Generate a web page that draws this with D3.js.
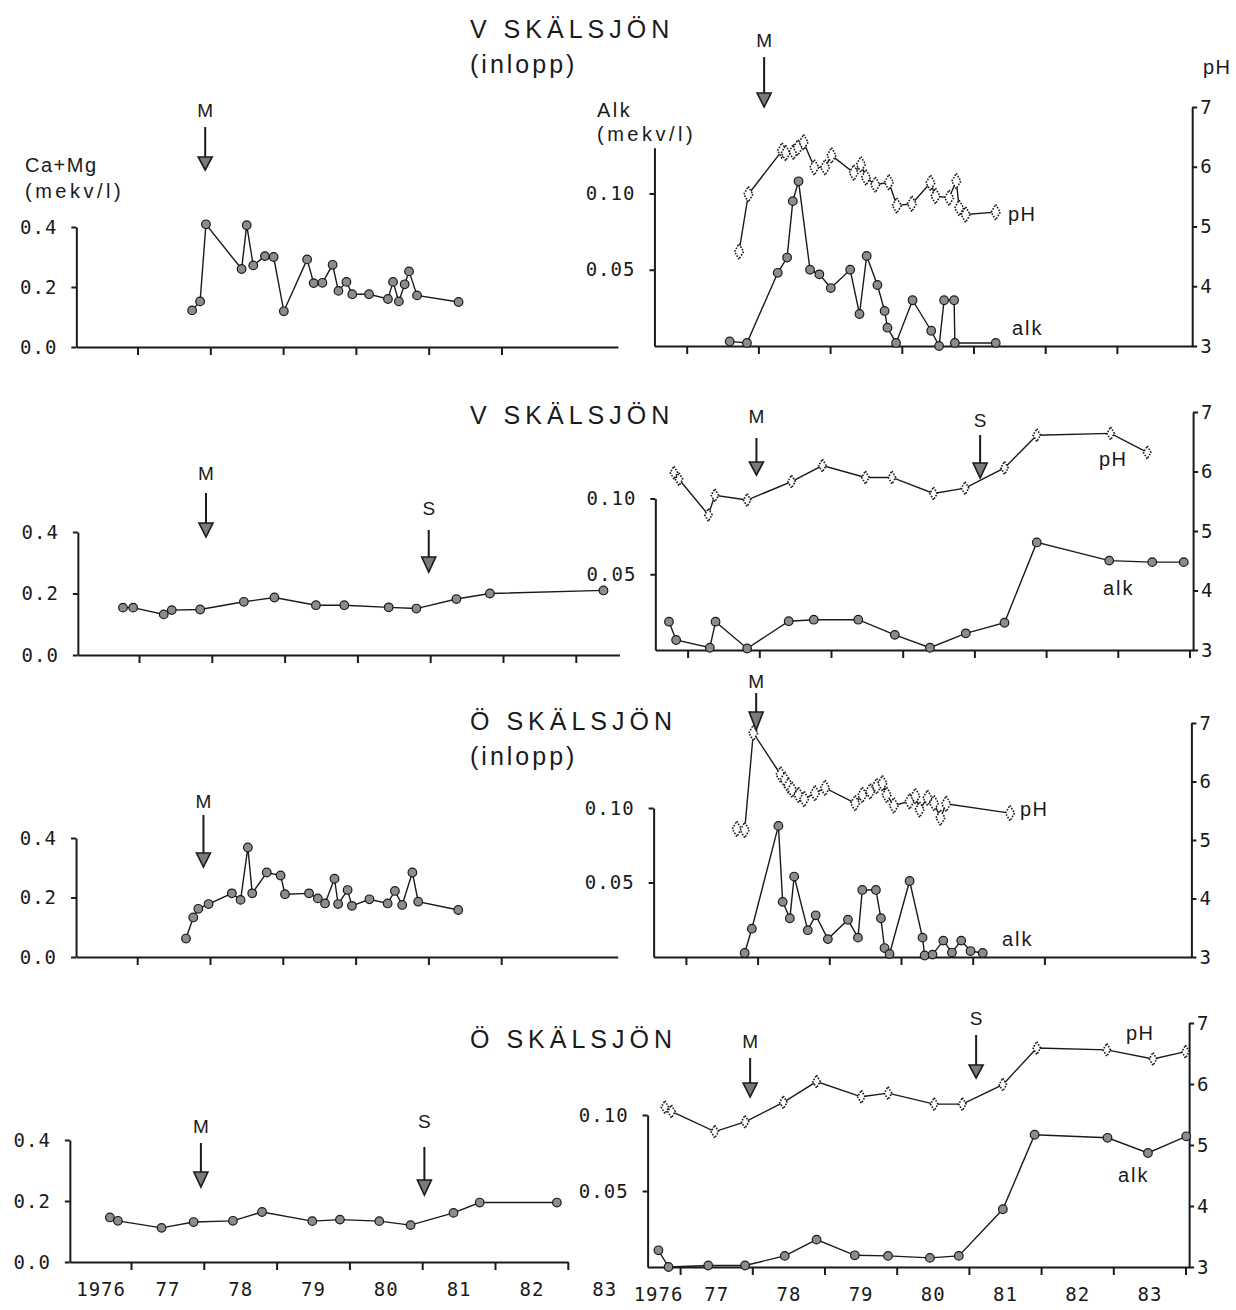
<!DOCTYPE html>
<html><head><meta charset="utf-8">
<script src="https://cdn.jsdelivr.net/npm/d3@7"></script>
<style>
body{margin:0;background:#fff;}
svg{display:block;background:#fff;}
.num{font-family:'DejaVu Sans Mono','Liberation Mono',monospace;font-size:19px;fill:#1a1a1a;letter-spacing:1px;}
.lab{font-family:'Liberation Sans','DejaVu Sans',sans-serif;fill:#1a1a1a;}
.ax path,.ax line{stroke:#1a1a1a;stroke-width:2;}
.ax text{font-family:'DejaVu Sans Mono','Liberation Mono',monospace;font-size:19px;fill:#1a1a1a;letter-spacing:1px;}
</style></head><body>
<svg id="c" width="1236" height="1310"></svg>
<script>
// ---------------- DATA ----------------
const yearLabels = ['1976','77','78','79','80','81','82','83'];
const yearLabelPos = [1976.5,1977.5,1978.5,1979.5,1980.5,1981.5,1982.5,1983.5];
const caTicks = [0.0,0.2,0.4];
const alkTicks = [0.05,0.10];
const phTicks = [3,4,5,6,7];
const titles = [['V SKÄLSJÖN','(inlopp)'],['V SKÄLSJÖN'],['Ö SKÄLSJÖN','(inlopp)'],['Ö SKÄLSJÖN']];

// Row 1: V Skälsjön (inlopp)
const vInCaT = [1977.75,1977.86,1977.94,1978.43,1978.50,1978.59,1978.75,1978.87,1979.01,1979.33,1979.42,1979.54,1979.68,1979.76,1979.87,1979.95,1980.18,1980.44,1980.51,1980.59,1980.67,1980.73,1980.84,1981.41];
const vInCa  = [0.122,0.152,0.409,0.26,0.406,0.272,0.303,0.30,0.119,0.292,0.213,0.214,0.274,0.187,0.217,0.176,0.176,0.16,0.217,0.152,0.209,0.252,0.172,0.15];
const vInAlkT = [1977.60,1977.84,1978.27,1978.40,1978.48,1978.56,1978.72,1978.85,1979.01,1979.28,1979.41,1979.51,1979.66,1979.76,1979.80,1979.92,1980.15,1980.41,1980.52,1980.59,1980.73,1980.74,1981.31];
const vInAlk  = [0.003,0.002,0.048,0.058,0.095,0.108,0.050,0.047,0.038,0.050,0.021,0.059,0.040,0.023,0.012,0.002,0.030,0.010,0.0,0.030,0.030,0.002,0.002];
const vInPhT = [1977.73,1977.86,1978.33,1978.38,1978.49,1978.55,1978.63,1978.78,1978.93,1979.02,1979.33,1979.43,1979.50,1979.63,1979.82,1979.93,1980.14,1980.40,1980.47,1980.66,1980.76,1980.80,1980.89,1981.31];
const vInPh  = [4.58,5.54,6.27,6.23,6.25,6.32,6.41,5.99,5.99,6.19,5.90,6.04,5.82,5.70,5.74,5.35,5.38,5.73,5.51,5.48,5.76,5.31,5.20,5.24];

// Row 2: V Skälsjön
const vCaT = [1976.78,1976.92,1977.34,1977.45,1977.84,1978.44,1978.86,1979.43,1979.82,1980.43,1980.81,1981.36,1981.82,1983.38];
const vCa  = [0.154,0.154,0.132,0.146,0.148,0.173,0.187,0.162,0.162,0.155,0.151,0.182,0.20,0.21];
const vAlkT = [1976.74,1976.84,1977.31,1977.39,1977.83,1978.41,1978.76,1979.38,1979.89,1980.38,1980.88,1981.42,1981.87,1982.88,1983.48,1983.92];
const vAlk  = [0.0187,0.0066,0.0015,0.0187,0.001,0.019,0.020,0.020,0.010,0.0015,0.011,0.018,0.071,0.059,0.058,0.058];
const vPhT = [1976.81,1976.88,1977.29,1977.38,1977.83,1978.45,1978.88,1979.48,1979.85,1980.43,1980.87,1981.42,1981.87,1982.90,1983.41];
const vPh  = [5.98,5.87,5.27,5.60,5.52,5.83,6.10,5.90,5.90,5.63,5.72,6.06,6.61,6.64,6.32];

// Row 3: Ö Skälsjön (inlopp)
const oInCaT = [1977.67,1977.77,1977.84,1977.98,1978.30,1978.42,1978.52,1978.58,1978.78,1978.97,1979.03,1979.36,1979.48,1979.58,1979.71,1979.76,1979.89,1979.95,1980.19,1980.44,1980.54,1980.64,1980.78,1980.86,1981.41];
const oInCa  = [0.062,0.133,0.162,0.178,0.214,0.192,0.368,0.214,0.284,0.274,0.211,0.214,0.197,0.180,0.263,0.178,0.225,0.172,0.194,0.180,0.222,0.175,0.284,0.186,0.158];
const oInAlkT = [1977.82,1977.92,1978.29,1978.35,1978.45,1978.51,1978.70,1978.81,1978.98,1979.26,1979.40,1979.46,1979.65,1979.72,1979.77,1979.84,1980.12,1980.30,1980.33,1980.44,1980.59,1980.71,1980.84,1980.97,1981.14];
const oInAlk  = [0.0027,0.019,0.088,0.037,0.026,0.054,0.018,0.028,0.012,0.025,0.013,0.045,0.045,0.026,0.006,0.002,0.051,0.013,0.001,0.0016,0.011,0.003,0.011,0.004,0.0027];
const oInPhT = [1977.71,1977.82,1977.94,1978.32,1978.38,1978.43,1978.48,1978.57,1978.65,1978.80,1978.94,1979.36,1979.46,1979.57,1979.66,1979.74,1979.80,1979.90,1980.12,1980.20,1980.26,1980.37,1980.46,1980.55,1980.63,1981.52];
const oInPh  = [5.19,5.17,6.83,6.12,6.03,5.93,5.86,5.77,5.70,5.80,5.89,5.63,5.77,5.83,5.92,5.97,5.77,5.59,5.66,5.75,5.52,5.72,5.63,5.38,5.62,5.46];

// Row 4: Ö Skälsjön
const oCaT = [1976.71,1976.82,1977.42,1977.86,1978.40,1978.80,1979.49,1979.87,1980.41,1980.84,1981.43,1981.79,1982.85];
const oCa  = [0.146,0.135,0.112,0.131,0.135,0.164,0.134,0.139,0.134,0.121,0.161,0.195,0.195];
const oAlkT = [1976.70,1976.84,1977.39,1977.90,1978.45,1978.89,1979.42,1979.88,1980.46,1980.86,1981.47,1981.91,1982.92,1983.48,1984.01];
const oAlk  = [0.011,0.0,0.001,0.001,0.0073,0.018,0.0077,0.0073,0.006,0.0073,0.038,0.087,0.085,0.075,0.086];
const oPhT = [1976.79,1976.88,1977.48,1977.90,1978.43,1978.89,1979.51,1979.88,1980.52,1980.91,1981.47,1981.94,1982.91,1983.55,1984.00];
const oPh  = [5.62,5.55,5.22,5.38,5.70,6.04,5.79,5.85,5.67,5.67,5.99,6.59,6.56,6.41,6.53];

// Events (M, S) : year per panel
const eventNames = ['M','S'];
const leftEventYears  = [[1977.93],[1977.92,1980.98],[1977.91],[1977.96,1981.03]];
const rightEventYears = [[1978.08],[1977.96,1981.08],[1977.98],[1977.97,1981.10]];

// ---------------- LAYOUT ----------------
const zip = (t,v)=>t.map((d,i)=>({t:d,v:v[i]}));
const caSeries  = [zip(vInCaT,vInCa),zip(vCaT,vCa),zip(oInCaT,oInCa),zip(oCaT,oCa)];
const alkSeries = [zip(vInAlkT,vInAlk),zip(vAlkT,vAlk),zip(oInAlkT,oInAlk),zip(oAlkT,oAlk)];
const phSeries  = [zip(vInPhT,vInPh),zip(vPhT,vPh),zip(oInPhT,oInPh),zip(oPhT,oPh)];

const L = [
 {x1977:137.5,yw:72.8,y04:227,y0:347,end:1983.6,ticks:[1977,1978,1979,1980,1981,1982]},
 {x1977:139,  yw:72.8,y04:532,y0:655,end:1983.6,ticks:[1977,1978,1979,1980,1981,1982,1983]},
 {x1977:137.2,yw:72.8,y04:838,y0:957,end:1983.6,ticks:[1977,1978,1979,1980,1981,1982]},
 {x1977:131,  yw:72.8,y04:1140,y0:1262,end:1983.0,ticks:[1977,1978,1979,1980,1981,1982,1983]}
];
const R = [
 {x1977:686.7,yw:71.7,y0:346,y010:193.5,top:0.13,ph7:107,ticks:[1977,1978,1979,1980,1981,1982,1983]},
 {x1977:687.6,yw:71.7,y0:650,y010:498.5,top:0.10,ph7:412,ticks:[1977,1978,1979,1980,1981,1982,1983,1984]},
 {x1977:685.9,yw:71.7,y0:957,y010:808,top:0.10,ph7:723,ticks:[1977,1978,1979,1980,1981,1982]},
 {x1977:680.1,yw:72.2,y0:1267,y010:1115,top:0.10,ph7:1023,ticks:[1977,1978,1979,1980,1981,1982,1983,1984]}
];
// arrow geometry [labelBaseline, shaftTop, headTop, tip]
const leftArrows = [[[117,127,157,170]],[[480,493,523,537],[515,530,557,572]],[[808,815,853,867]],[[1133,1143,1172,1187],[1128,1147,1180,1195]]];
const rightArrows = [[[47,57,93,107]],[[423,438,462,475],[427,435,463,478]],[[688,693,712,730]],[[1048,1058,1083,1097],[1025,1035,1065,1078]]];
const titlePos = [[38,73],[424],[730,765],[1048]];
const phLabelPos = [[1008,221],[1099,466],[1020,816],[1126,1040]];
const alkLabelPos = [[1012,335],[1103,595],[1002,946],[1118,1182]];

const svg = d3.select('#c');
const ink = '#1a1a1a';

function drawArrow(g, x, geo, name){
  const [lb, st, ht, tip] = geo;
  g.append('text').attr('class','lab').attr('x',x).attr('y',lb).attr('text-anchor','middle')
    .attr('font-size',19).text(name);
  g.append('line').attr('x1',x).attr('x2',x).attr('y1',st).attr('y2',ht+2)
    .attr('stroke',ink).attr('stroke-width',2);
  g.append('path').attr('d',`M${x-7},${ht}L${x+7},${ht}L${x},${tip}Z`)
    .attr('fill','#7a7a7a').attr('stroke',ink).attr('stroke-width',1.6);
}

// titles
titles.forEach((lines,i)=>{
  lines.forEach((s,j)=>{
    svg.append('text').attr('class','lab').attr('x',470).attr('y',titlePos[i][j])
      .attr('font-size',25).attr('letter-spacing', j===0? '5px':'3px').text(s);
  });
});

// axis titles
svg.append('text').attr('class','lab').attr('x',25).attr('y',172).attr('font-size',20).attr('letter-spacing','1.5px').text('Ca+Mg');
svg.append('text').attr('class','lab').attr('x',25).attr('y',198).attr('font-size',20).attr('letter-spacing','3.5px').text('(mekv/l)');
svg.append('text').attr('class','lab').attr('x',597).attr('y',117).attr('font-size',20).attr('letter-spacing','2.5px').text('Alk');
svg.append('text').attr('class','lab').attr('x',597).attr('y',141).attr('font-size',20).attr('letter-spacing','3.5px').text('(mekv/l)');
svg.append('text').attr('class','lab').attr('x',1203).attr('y',74).attr('font-size',20).attr('letter-spacing','1.5px').text('pH');

const diamond = d3.symbol().type(d3.symbolDiamond);

for(let r=0;r<4;r++){
  // ---------- LEFT PANEL ----------
  const c = L[r];
  const x0 = 1976.16;
  const x = d3.scaleLinear().domain([x0,c.end])
    .range([c.x1977+(x0-1977)*c.yw, c.x1977+(c.end-1977)*c.yw]);
  const y = d3.scaleLinear().domain([0,0.4]).range([c.y0,c.y04]);
  const g = svg.append('g');
  g.append('g').attr('class','ax').attr('transform',`translate(0,${c.y0})`)
    .call(d3.axisBottom(x).tickValues(c.ticks).tickSize(8).tickSizeOuter(0).tickFormat(''));
  g.append('g').attr('class','ax').attr('transform',`translate(${x(x0)},0)`)
    .call(d3.axisLeft(y).tickValues(caTicks).tickFormat(d3.format('.1f')).tickSize(5).tickSizeOuter(0).tickPadding(14));
  const line = d3.line().x(d=>x(d.t)).y(d=>y(d.v));
  g.append('path').datum(caSeries[r]).attr('d',line).attr('fill','none').attr('stroke',ink).attr('stroke-width',1.4);
  g.selectAll('circle.ca').data(caSeries[r]).join('circle').attr('class','ca')
    .attr('cx',d=>x(d.t)).attr('cy',d=>y(d.v)).attr('r',4.3)
    .attr('fill','#8c8c8c').attr('stroke',ink).attr('stroke-width',1.2);
  leftEventYears[r].forEach((yr,k)=>drawArrow(g, x(yr), leftArrows[r][k], eventNames[k]));
  if(r===3){
    const la = g.append('g').attr('class','ax').attr('transform',`translate(0,${c.y0})`)
      .call(d3.axisBottom(x).tickValues(yearLabelPos).tickSize(0).tickPadding(21)
        .tickFormat((d,i)=>yearLabels[i]));
    la.select('.domain').remove();
    la.selectAll('.tick').filter((d,i)=>i===0).select('text').attr('dx',6);
  }

  // ---------- RIGHT PANEL ----------
  const q = R[r];
  const xs = 1976.55, xe = 1984.05;
  const xr = d3.scaleLinear().domain([xs,xe])
    .range([q.x1977+(xs-1977)*q.yw, q.x1977+(xe-1977)*q.yw]);
  const ya = d3.scaleLinear().domain([0,0.1]).range([q.y0,q.y010]);
  const yaAx = ya.copy().domain([0,q.top]).range([q.y0, ya(q.top)]);
  const yp = d3.scaleLinear().domain([3,7]).range([q.y0,q.ph7]);
  const h = svg.append('g');
  h.append('g').attr('class','ax').attr('transform',`translate(0,${q.y0})`)
    .call(d3.axisBottom(xr).tickValues(q.ticks).tickSize(8).tickSizeOuter(0).tickFormat(''));
  h.append('g').attr('class','ax').attr('transform',`translate(${xr(xs)},0)`)
    .call(d3.axisLeft(yaAx).tickValues(alkTicks).tickFormat(d3.format('.2f')).tickSize(5).tickSizeOuter(0).tickPadding(14));
  h.append('g').attr('class','ax').attr('transform',`translate(${xr(xe)},0)`)
    .call(d3.axisRight(yp).tickValues(phTicks).tickFormat(d3.format('d')).tickSize(5).tickSizeOuter(0).tickPadding(3));
  const la2 = d3.line().x(d=>xr(d.t)).y(d=>ya(d.v));
  const lp = d3.line().x(d=>xr(d.t)).y(d=>yp(d.v));
  h.append('path').datum(phSeries[r]).attr('d',lp).attr('fill','none').attr('stroke',ink).attr('stroke-width',1.4);
  h.append('path').datum(alkSeries[r]).attr('d',la2).attr('fill','none').attr('stroke',ink).attr('stroke-width',1.4);
  const dsz = (r===0||r===2)? 70 : 48;
  h.selectAll('path.ph').data(phSeries[r]).join('path').attr('class','ph')
    .attr('transform',d=>`translate(${xr(d.t)},${yp(d.v)})`).attr('d',diamond.size(dsz)())
    .attr('fill','#fff').attr('stroke',ink).attr('stroke-width',1.6).attr('stroke-dasharray','1.6 1.4');
  h.selectAll('circle.alk').data(alkSeries[r]).join('circle').attr('class','alk')
    .attr('cx',d=>xr(d.t)).attr('cy',d=>ya(d.v)).attr('r',4.3)
    .attr('fill','#8c8c8c').attr('stroke',ink).attr('stroke-width',1.2);
  rightEventYears[r].forEach((yr,k)=>drawArrow(h, xr(yr), rightArrows[r][k], eventNames[k]));
  h.append('text').attr('class','lab').attr('x',phLabelPos[r][0]).attr('y',phLabelPos[r][1]).attr('font-size',20).attr('letter-spacing','1.5px').text('pH');
  h.append('text').attr('class','lab').attr('x',alkLabelPos[r][0]).attr('y',alkLabelPos[r][1]).attr('font-size',20).attr('letter-spacing','2px').text('alk');
  if(r===3){
    const lb = h.append('g').attr('class','ax').attr('transform',`translate(0,${q.y0})`)
      .call(d3.axisBottom(xr).tickValues(yearLabelPos).tickSize(0).tickPadding(21)
        .tickFormat((d,i)=>yearLabels[i]));
    lb.select('.domain').remove();
    lb.selectAll('.tick').filter((d,i)=>i===0).select('text').attr('dx',14);
  }
}
</script>
</body></html>
